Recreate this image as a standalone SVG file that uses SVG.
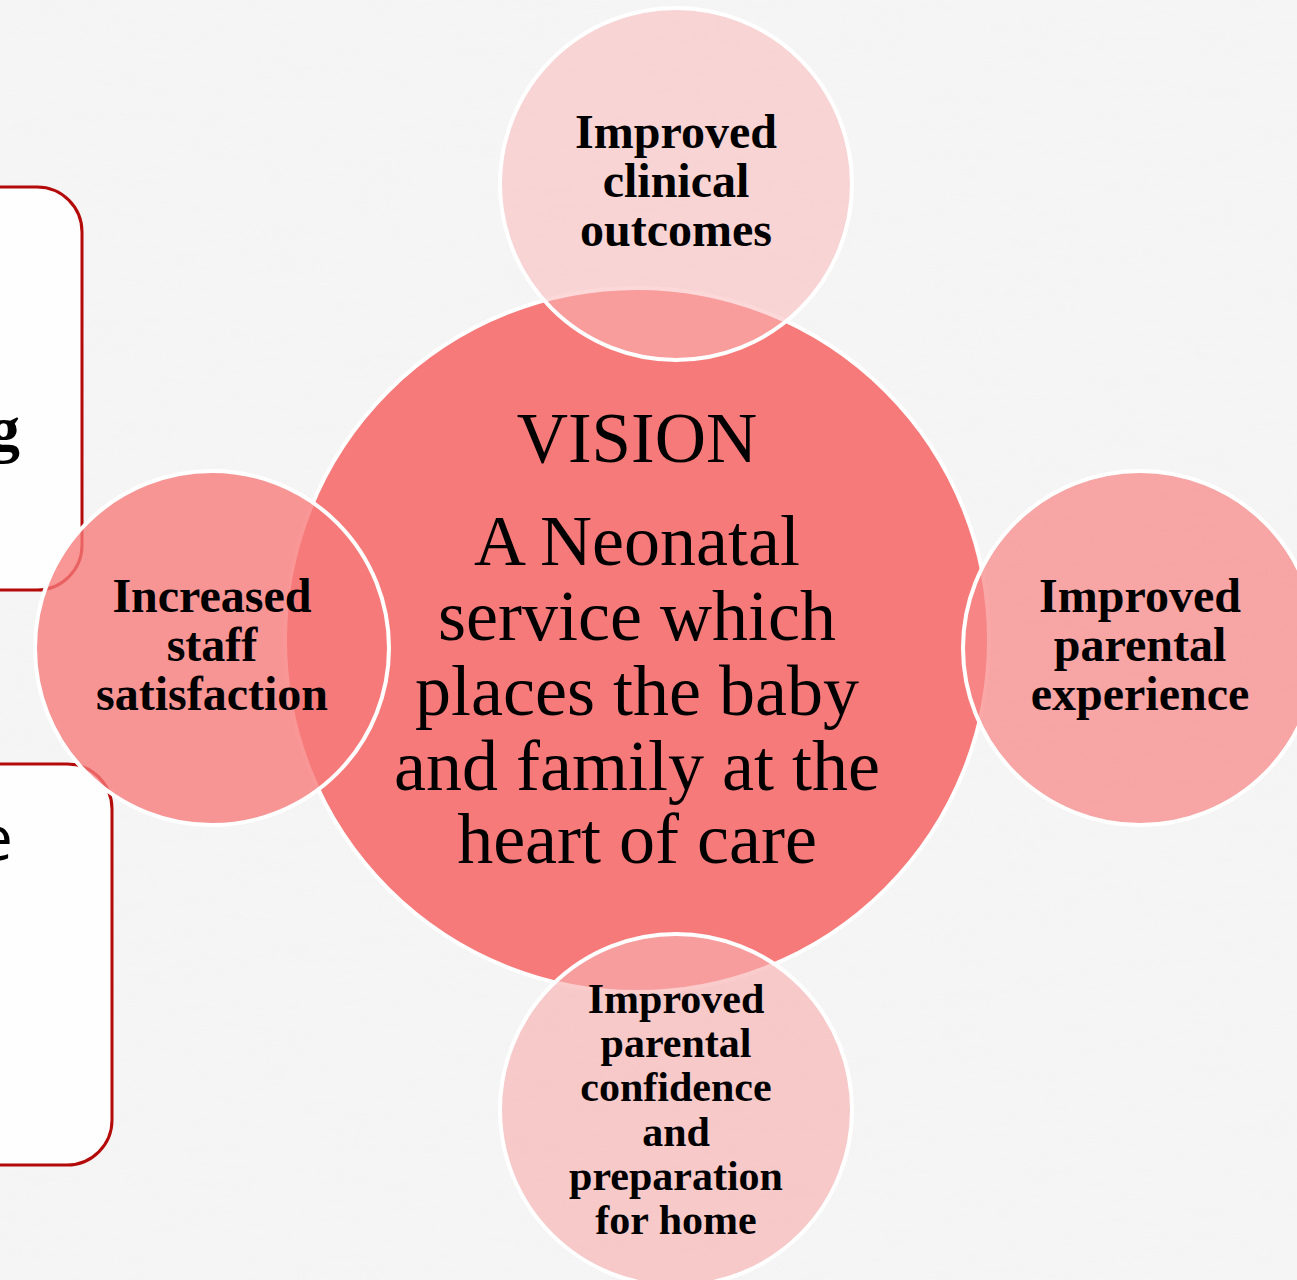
<svg xmlns="http://www.w3.org/2000/svg" width="1297" height="1280" viewBox="0 0 1297 1280">
<defs>
<style>
.box{fill:#FEFEFE;stroke:#B40A0A;stroke-width:3}
.ring{stroke:#FFFFFF;stroke-width:4}
.lbl{font-family:"Liberation Serif","Times New Roman",serif;font-weight:bold;fill:#000;text-anchor:middle}
.main{font-family:"Liberation Serif","Times New Roman",serif;fill:#000;text-anchor:middle}
</style>
<filter id="paper" x="0" y="0" width="100%" height="100%">
<feTurbulence type="fractalNoise" baseFrequency="0.012 0.09" numOctaves="3" seed="4"/>
<feColorMatrix type="matrix" values="0 0 0 0 0.9  0 0 0 0 0.9  0 0 0 0 0.9  0 0 0 -1.2 0.9"/>
</filter>
</defs>
<rect x="0" y="0" width="1297" height="1280" fill="#F5F5F5"/>
<rect x="0" y="0" width="1297" height="1280" filter="url(#paper)" opacity="0.5"/>
<g id="box1">
<rect class="box" x="-60" y="187" width="142" height="403" rx="45"/>
<text x="-12" y="450" font-family="Liberation Serif,serif" font-weight="bold" font-size="64">g</text>
</g>
<g id="box2">
<rect class="box" x="-60" y="764" width="172" height="401" rx="45"/>
<text x="-22" y="860" font-family="Open Sans,Liberation Sans,sans-serif" font-size="62">e</text>
</g>
<g id="connectors"></g>
<g id="center">
<circle class="ring" cx="637" cy="640" r="352" fill="#F77A7A"/>
<text class="main" x="637" y="462" font-size="71">VISION</text>
<text class="main" font-size="72"><tspan x="637" y="565">A Neonatal</tspan><tspan x="637" y="640">service which</tspan><tspan x="637" y="715">places the baby</tspan><tspan x="637" y="790">and family at the</tspan><tspan x="637" y="863">heart of care</tspan></text>
</g>
<g id="top">
<circle class="ring" cx="676" cy="184" r="176" fill="#FAB8B8" fill-opacity="0.55"/>
<text class="lbl" font-size="48"><tspan x="676" y="148">Improved</tspan><tspan x="676" y="197">clinical</tspan><tspan x="676" y="246">outcomes</tspan></text>
</g>
<g id="left">
<circle class="ring" cx="212" cy="648" r="177" fill="#F77A7A" fill-opacity="0.78"/>
<text class="lbl" font-size="48"><tspan x="212" y="612">Increased</tspan><tspan x="212" y="661">staff</tspan><tspan x="212" y="710">satisfaction</tspan></text>
</g>
<g id="right">
<circle class="ring" cx="1140" cy="648" r="177" fill="#F78A8A" fill-opacity="0.75"/>
<text class="lbl" font-size="48"><tspan x="1140" y="612">Improved</tspan><tspan x="1140" y="661">parental</tspan><tspan x="1140" y="710">experience</tspan></text>
</g>
<g id="bottom">
<circle class="ring" cx="676" cy="1110" r="176" fill="#F7B0B0" fill-opacity="0.65"/>
<text class="lbl" font-size="42"><tspan x="676" y="1013">Improved</tspan><tspan x="676" y="1057">parental</tspan><tspan x="676" y="1101">confidence</tspan><tspan x="676" y="1146">and</tspan><tspan x="676" y="1190">preparation</tspan><tspan x="676" y="1234">for home</tspan></text>
</g>
</svg>
